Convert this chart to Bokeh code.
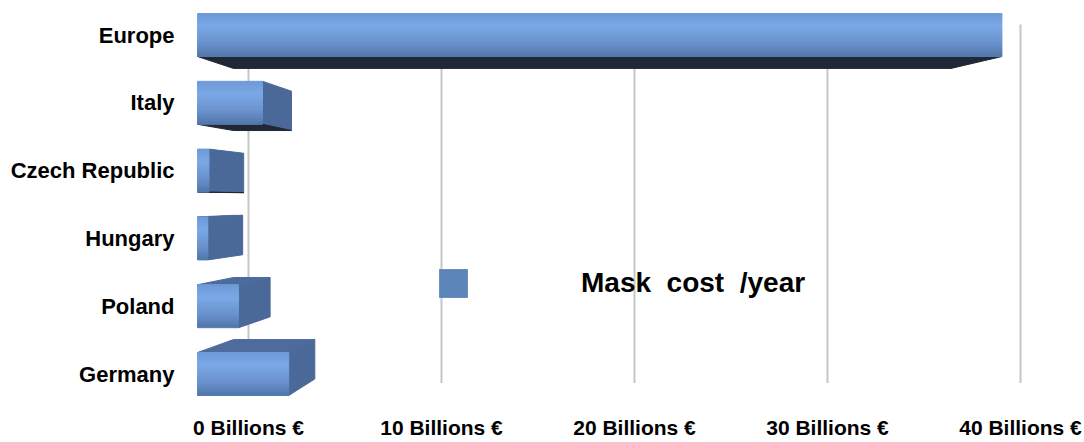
import numpy as np
from bokeh.plotting import figure
from bokeh.models import ColumnDataSource, FixedTicker, Legend, LegendItem, Range1d
from bokeh.embed import file_html
from bokeh.resources import INLINE

# ---------------- data ----------------
countries = ["Europe", "Italy", "Czech Republic", "Hungary", "Poland", "Germany"]
cost_billion_eur = [35.3, 2.85, 0.5, 0.45, 1.8, 4.0]
tick_values = [0, 10, 20, 30, 40]
tick_labels = ["0 Billions €", "10 Billions €", "20 Billions €", "30 Billions €", "40 Billions €"]
series_name = "Mask  cost  /year"

# ---------------- 3D look parameters ----------------
VX, VY = 14.61, 2.589          # vanishing point (data units)
FRONT_SCALE = 1 / 0.847        # front plane magnification vs. back wall
BAR_DX, BAR_DY = 0.108, 0.084  # bar depth shrink factors
WALL_DY = 0.119
BAR_H = 0.634
N_BANDS = 16

grad_stops = [(0.0, (0x6d, 0x99, 0xd6)), (0.3, (0x7b, 0xa9, 0xe7)),
              (0.72, (0x68, 0x90, 0xca)), (1.0, (0x52, 0x76, 0xab))]
SIDE_COLOR = "#4a6998"
TOP_COLOR = "#4d6c9d"
BOTTOM_COLOR = "#1f2834"
GRID_COLOR = "#c6c6c6"
LEGEND_COLOR = "#5b84b8"
FONT = "Liberation Sans"


def grad_color(t):
    for (t0, c0), (t1, c1) in zip(grad_stops[:-1], grad_stops[1:]):
        if t0 <= t <= t1:
            f = (t - t0) / (t1 - t0)
            c = [int(round(a + (b - a) * f)) for a, b in zip(c0, c1)]
            return "#%02x%02x%02x" % tuple(c)
    return "#%02x%02x%02x" % grad_stops[-1][1]


def front_x(v):
    return VX + (v - VX) * FRONT_SCALE


def back(x, y):
    return VX + (x - VX) * (1 - BAR_DX), VY + (y - VY) * (1 - BAR_DY)


n = len(countries)
rows = [n - 1 - i for i in range(n)]

side_xs, side_ys, top_xs, top_ys, bot_xs, bot_ys = [], [], [], [], [], []
band = dict(left=[], right=[], bottom=[], top=[], color=[])
for r, v in zip(rows, cost_billion_eur):
    x0, x1 = front_x(0), front_x(v)
    yb, yt = r - BAR_H / 2, r + BAR_H / 2
    if x1 < VX:  # right side face visible
        bx_b, by_b = back(x1, yb)
        bx_t, by_t = back(x1, yt)
        side_xs.append([x1, x1, bx_b, bx_t])
        side_ys.append([yt, yb, by_b, by_t])
    if yt < VY:  # top face visible
        a = back(x0, yt); b = back(x1, yt)
        top_xs.append([x0, x1, b[0], a[0]])
        top_ys.append([yt, yt, b[1], a[1]])
    if yb > VY:  # bottom face visible
        a = back(x0, yb); b = back(x1, yb)
        bot_xs.append([x0, x1, b[0], a[0]])
        bot_ys.append([yb, yb, b[1], a[1]])
    for k in range(N_BANDS):
        band["left"].append(x0)
        band["right"].append(x1)
        band["top"].append(yt - BAR_H * k / N_BANDS)
        band["bottom"].append(yt - BAR_H * (k + 1) / N_BANDS)
        band["color"].append(grad_color((k + 0.5) / N_BANDS))

wall_bottom = VY + (-0.5 - VY) * (1 - WALL_DY)
wall_top = VY + (n - 0.5 - VY) * (1 - WALL_DY)

# ---------------- figure ----------------
p = figure(width=1084, height=442,
           x_range=Range1d(-3.005, 43.316), y_range=Range1d(-0.612, 5.509),
           output_backend="svg", toolbar_location=None,
           min_border_left=190, min_border_right=0, min_border_top=0, min_border_bottom=27)
p.outline_line_color = None
p.grid.visible = False
p.background_fill_color = "white"

# gridlines on the back wall
p.segment(x0=tick_values, x1=tick_values, y0=[wall_bottom] * len(tick_values),
          y1=[wall_top] * len(tick_values), line_color=GRID_COLOR, line_width=2)

p.patches(side_xs, side_ys, fill_color=SIDE_COLOR, line_color=SIDE_COLOR, line_width=1)
p.patches(top_xs, top_ys, fill_color=TOP_COLOR, line_color=TOP_COLOR, line_width=1)
p.patches(bot_xs, bot_ys, fill_color=BOTTOM_COLOR, line_color=BOTTOM_COLOR, line_width=1)
p.quad(left="left", right="right", bottom="bottom", top="top", fill_color="color",
       line_color="color", line_width=1, source=ColumnDataSource(band))

swatch = p.quad(left=[np.nan], right=[np.nan], bottom=[np.nan], top=[np.nan],
                fill_color=LEGEND_COLOR, line_color=None)

# axes
xa = p.xaxis[0]
xa.ticker = FixedTicker(ticks=tick_values)
xa.major_label_overrides = {t: l for t, l in zip(tick_values, tick_labels)}
xa.axis_line_color = None
xa.major_tick_line_color = None
xa.minor_tick_line_color = None
xa.major_tick_out = 0
xa.major_tick_in = 0
xa.major_label_text_font = FONT
xa.major_label_text_font_style = "bold"
xa.major_label_text_font_size = "21px"
xa.major_label_text_color = "black"
xa.major_label_standoff = 0

ya = p.yaxis[0]
ya.ticker = FixedTicker(ticks=rows)
ya.major_label_overrides = {r: c for r, c in zip(rows, countries)}
ya.axis_line_color = None
ya.major_tick_line_color = None
ya.minor_tick_line_color = None
ya.major_tick_out = 0
ya.major_tick_in = 0
ya.major_label_text_font = FONT
ya.major_label_text_font_style = "bold"
ya.major_label_text_font_size = "22px"
ya.major_label_text_color = "black"
ya.major_label_standoff = 16

legend = Legend(items=[LegendItem(label=series_name, renderers=[swatch])],
                location=(245, 114), glyph_width=36, glyph_height=36, label_standoff=110,
                label_text_font=FONT, label_text_font_style="bold", label_text_font_size="28px",
                label_text_color="black", label_height=36, padding=0, margin=0,
                border_line_alpha=0, background_fill_alpha=0)
p.add_layout(legend)

open("out.html", "w").write(file_html(p, INLINE))
